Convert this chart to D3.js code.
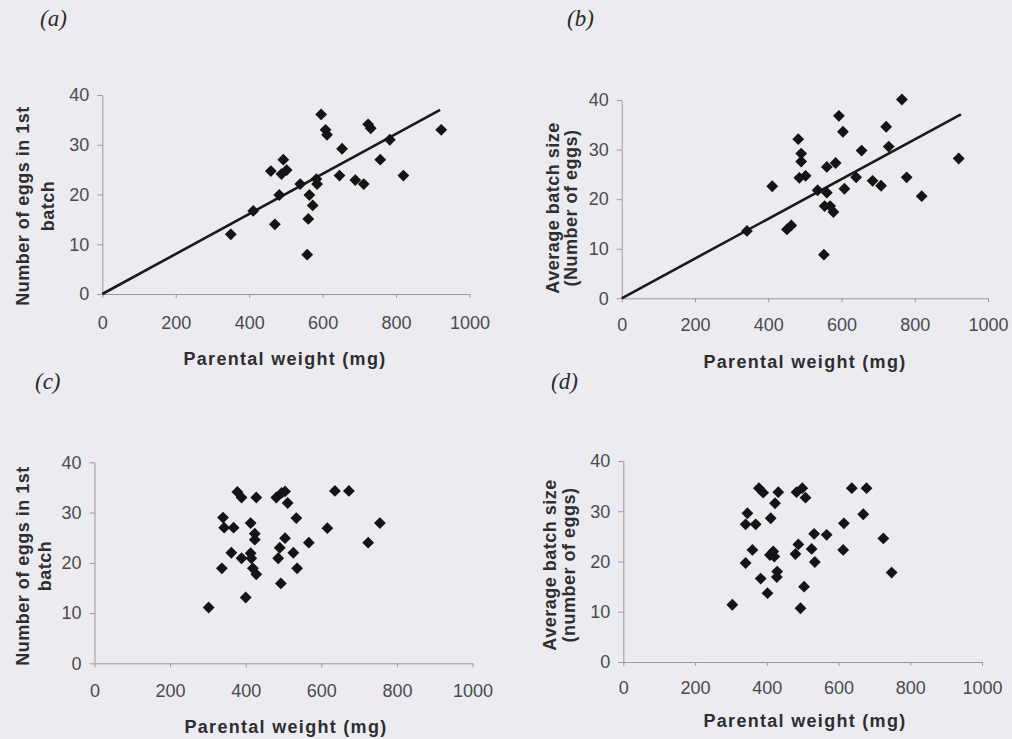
<!DOCTYPE html>
<html>
<head>
<meta charset="utf-8">
<script src="https://cdn.jsdelivr.net/npm/d3@7"></script>
<style>
  body { margin: 0; background: #ececf0; }
  svg { display: block; }
</style>
</head>
<body>
<div id="chart"></div>
<script>
"use strict"

// shared ticks
const xTicks = [0, 200, 400, 600, 800, 1000];
const yTicks = [0, 10, 20, 30, 40];

// (a) parental weight vs eggs in 1st batch
const weightA = [350, 411, 459, 470, 482, 493, 488, 502, 539, 564, 573, 561, 558, 583, 585, 596, 608, 612, 646, 653, 689, 712, 724, 731, 757, 783, 820, 923];
const eggsA   = [12, 16.7, 24.7, 14, 19.9, 27, 24.1, 24.9, 22.1, 19.9, 17.8, 15.1, 7.9, 23.1, 22.1, 36.1, 33, 32, 23.8, 29.2, 22.9, 22.1, 34.1, 33.3, 27, 31, 23.8, 33];
const fitAx = [0, 920];
const fitAy = [0, 37];

// (b) parental weight vs average batch size
const weightB = [342, 411, 451, 463, 482, 490, 490, 485, 502, 535, 560, 554, 569, 578, 552, 560, 584, 593, 604, 608, 640, 655, 685, 708, 722, 729, 765, 778, 819, 920];
const batchB  = [13.6, 22.6, 13.9, 14.7, 32.1, 29.2, 27.6, 24.3, 24.7, 21.8, 21.3, 18.6, 18.6, 17.4, 8.8, 26.5, 27.3, 36.8, 33.6, 22.1, 24.4, 29.8, 23.7, 22.7, 34.6, 30.6, 40.1, 24.4, 20.6, 28.2];
const fitBx = [0, 926];
const fitBy = [0, 37.1];

// (c) second group, eggs in 1st batch
const weightC = [302, 337, 340, 343, 368, 362, 378, 389, 389, 400, 413, 413, 415, 424, 424, 419, 428, 428, 481, 495, 504, 511, 486, 493, 490, 504, 526, 534, 536, 567, 616, 636, 673, 724, 755];
const eggsC   = [11.1, 18.9, 29, 27, 27, 22, 34.1, 33, 20.9, 13.1, 27.9, 21.9, 20.9, 25.8, 24.6, 18.9, 17.7, 33, 33, 33.9, 34.2, 31.9, 20.9, 15.9, 23, 24.9, 22, 28.9, 18.9, 24, 26.9, 34.3, 34.3, 24, 27.9];

// (d) second group, average batch size
const weightD = [304, 341, 346, 341, 369, 360, 378, 390, 383, 402, 411, 423, 432, 409, 418, 421, 429, 428, 483, 499, 508, 480, 488, 504, 494, 525, 534, 532, 567, 615, 613, 637, 669, 678, 725, 748];
const batchD  = [11.4, 19.7, 29.6, 27.4, 27.4, 22.3, 34.6, 33.7, 16.6, 13.7, 28.6, 31.6, 33.8, 21.3, 22, 21, 18, 16.9, 33.8, 34.6, 32.7, 21.5, 23.4, 15, 10.7, 22.5, 19.9, 25.5, 25.3, 27.6, 22.3, 34.6, 29.4, 34.6, 24.6, 17.8];

const panels = [
  { x: weightA, y: eggsA, fx: fitAx, fy: fitAy, left: 102.3, right: 469.5, bottom: 294, top: 95,
    tag: "(a)", tagX: 40, tagY: 26, tickOff: 29, titleX: 285, titleY: 365,
    yTitle: ["Number of eggs in 1st", "batch"], yTitleX: [22, 47], yTitleY: 206 },
  { x: weightB, y: batchB, fx: fitBx, fy: fitBy, left: 621.7, right: 988, bottom: 298.3, top: 100,
    tag: "(b)", tagX: 567, tagY: 26, tickOff: 27, titleX: 805, titleY: 368,
    yTitle: ["Average batch size", "(Number of eggs)"], yTitleX: [552, 570], yTitleY: 208 },
  { x: weightC, y: eggsC, left: 94.5, right: 472.5, bottom: 663.3, top: 462.3,
    tag: "(c)", tagX: 35, tagY: 389, tickOff: 28, titleX: 286, titleY: 733,
    yTitle: ["Number of eggs in 1st", "batch"], yTitleX: [22, 44], yTitleY: 566 },
  { x: weightD, y: batchD, left: 623.3, right: 982, bottom: 662, top: 461,
    tag: "(d)", tagX: 551, tagY: 389, tickOff: 26, titleX: 805, titleY: 727,
    yTitle: ["Average batch size", "(number of eggs)"], yTitleX: [549, 568], yTitleY: 565 }
];

let svg = d3.select("#chart")
  .append("svg")
  .attr("width", 1012)
  .attr("height", 739);

svg.append("rect")
  .attr("width", 1012)
  .attr("height", 739)
  .attr("fill", "#ececf0");

const diamond = d3.symbol().type(d3.symbolSquare).size(70);

panels.forEach(function(p) {
  let x = d3.scaleLinear().domain([0, 1000]).range([p.left, p.right]);
  let y = d3.scaleLinear().domain([0, 40]).range([p.bottom, p.top]);

  let g = svg.append("g");

  let xAxis = g.append("g")
    .attr("transform", "translate(0," + p.bottom + ")")
    .call(d3.axisBottom(x).tickValues(xTicks).tickFormat(d3.format("d"))
      .tickSize(4).tickPadding(p.tickOff - 11).tickSizeOuter(0));
  let yAxis = g.append("g")
    .attr("transform", "translate(" + p.left + ",0)")
    .call(d3.axisLeft(y).tickValues(yTicks).tickSize(5).tickPadding(8).tickSizeOuter(0));

  [xAxis, yAxis].forEach(function(a) {
    a.selectAll("path, line").attr("stroke", "#9a9a9e").attr("stroke-width", 1);
    a.selectAll("text")
      .attr("fill", "#4a4a4e")
      .style("font-family", "'Liberation Sans', Arial, sans-serif")
      .style("font-size", "18px");
  });

  if (p.fx) {
    g.append("line")
      .attr("x1", x(p.fx[0])).attr("y1", y(p.fy[0]))
      .attr("x2", x(p.fx[1])).attr("y2", y(p.fy[1]))
      .attr("stroke", "#1a1a1a")
      .attr("stroke-width", 2.6);
  }

  g.selectAll(".pt")
    .data(p.x.map(function(d, i) { return [d, p.y[i]]; }))
    .enter()
    .append("path")
    .attr("class", "pt")
    .attr("d", diamond)
    .attr("transform", function(d) { return "translate(" + x(d[0]) + "," + y(d[1]) + ") rotate(45)"; })
    .attr("fill", "#141414");

  g.append("text")
    .attr("x", p.tagX)
    .attr("y", p.tagY)
    .style("font-family", "'Liberation Serif', 'Times New Roman', serif")
    .style("font-style", "italic")
    .style("font-size", "23px")
    .attr("fill", "#2a2a2e")
    .text(p.tag);

  g.append("text")
    .attr("x", p.titleX)
    .attr("y", p.titleY)
    .attr("text-anchor", "middle")
    .style("font-family", "'Liberation Sans', Arial, sans-serif")
    .style("font-weight", "bold")
    .style("font-size", "18px")
    .style("letter-spacing", "1.3px")
    .attr("fill", "#2e2e32")
    .text("Parental weight (mg)");

  p.yTitle.forEach(function(t, i) {
    g.append("text")
      .attr("transform", "translate(" + (p.yTitleX[i] + 7) + "," + p.yTitleY + ") rotate(-90)")
      .attr("text-anchor", "middle")
      .style("font-family", "'Liberation Sans', Arial, sans-serif")
      .style("font-weight", "bold")
      .style("font-size", "18px")
      .style("letter-spacing", "0.5px")
      .attr("fill", "#2e2e32")
      .text(t);
  });
});
</script>
</body>
</html>
